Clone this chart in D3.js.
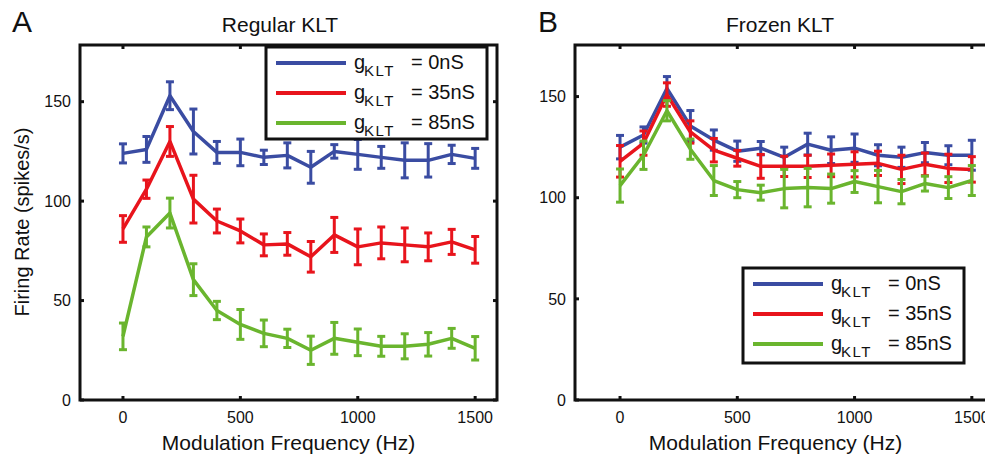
<!DOCTYPE html>
<meta charset="utf-8">
<script src="https://cdn.jsdelivr.net/npm/d3@7"></script>
<style>
  body { margin: 0; background: #fff; }
  text { font-family: "Liberation Sans", Arial, sans-serif; fill: #111; }
</style>
<body>
<svg id="chart" width="985" height="457"></svg>
<script>
// modulation frequencies (Hz)
var freqs = [0, 100, 200, 300, 400, 500, 600, 700, 800, 900, 1000, 1100, 1200, 1300, 1400, 1500];

// panel A - regular KLT
var regular0 = [124, 126, 153, 135, 124.5, 124.5, 122, 123, 117, 125, 123.5, 122, 120.5, 120.5, 123.5, 121.5];
var regular0Err = [4.8, 6.5, 7, 11.3, 5.5, 6.7, 3.6, 6.3, 8, 3.4, 7.5, 5.5, 8.8, 8.4, 4.6, 5];
var regular35 = [86, 106, 130, 101, 90, 85, 78, 78.5, 72, 83, 77, 79, 78, 77, 79.5, 75.5];
var regular35Err = [6.7, 4.6, 7.5, 12, 6, 6, 5.5, 5.7, 7.7, 8.8, 9, 8, 8.5, 7, 6.3, 6.7];
var regular85 = [32, 82, 94, 60.5, 45, 38, 33.5, 31, 25, 31, 29, 27, 27, 28, 31, 26];
var regular85Err = [6.7, 5, 7.5, 8, 4.6, 7.5, 6.7, 4.6, 7.1, 8, 6.7, 5, 6.3, 5.9, 5, 5.9];

// panel B - frozen KLT
var frozen0 = [125, 131, 154, 135.5, 128.5, 123, 124.5, 120, 126.5, 123.5, 124.5, 121, 120, 122.3, 121, 121];
var frozen0Err = [5.8, 4, 5.9, 7.6, 5, 5, 3.3, 5, 5.4, 6.6, 7, 5.2, 5, 5, 4.7, 7.4];
var frozen35 = [118, 127, 151, 132.5, 123.5, 119.5, 115.5, 115.5, 115.5, 116, 116.5, 117, 114, 116.5, 114.5, 114];
var frozen35Err = [7.8, 6, 5.8, 5.5, 5.8, 3.9, 5.9, 5, 5.5, 5.6, 6.2, 6, 7, 5.6, 7, 6.3];
var frozen85 = [106, 121, 143, 124, 108.5, 104, 102.5, 104.5, 105, 104.5, 108, 105.5, 103, 107, 105, 108.5];
var frozen85Err = [8.2, 7, 5, 5, 7.4, 4, 3.7, 9.5, 9.5, 7.2, 5.4, 8, 6, 3.7, 5.4, 7.4];

var xTicks = [0, 500, 1000, 1500];
var yTicks = [0, 50, 100, 150];
var seriesNames = ["0nS", "35nS", "85nS"];
var colors = ["#3a4ca2", "#e8141c", "#6ab52e"];

var svg = d3.select("#chart");

function drawPanel(p) {
  var x = d3.scaleLinear().domain(p.xDomain).range([p.left, p.left + 417]);
  var y = d3.scaleLinear().domain([0, p.yMax]).range([400, 45]);
  var g = svg.append("g");

  // series: lines then error bars
  p.series.forEach(function (s, k) {
    var pts = freqs.map(function (f, i) { return { f: f, v: s.vals[i], e: s.errs[i] }; });
    g.append("path").datum(pts)
      .attr("fill", "none").attr("stroke", colors[k]).attr("stroke-width", 3.5)
      .attr("stroke-linejoin", "round")
      .attr("d", d3.line().x(function (d) { return x(d.f); }).y(function (d) { return y(d.v); }));
    var eb = g.append("g").attr("stroke", colors[k]).attr("stroke-width", 3);
    pts.forEach(function (d) {
      var cx = x(d.f);
      eb.append("line").attr("x1", cx).attr("x2", cx).attr("y1", y(d.v - d.e)).attr("y2", y(d.v + d.e));
      eb.append("line").attr("x1", cx - 4).attr("x2", cx + 4).attr("y1", y(d.v - d.e)).attr("y2", y(d.v - d.e));
      eb.append("line").attr("x1", cx - 4).attr("x2", cx + 4).attr("y1", y(d.v + d.e)).attr("y2", y(d.v + d.e));
    });
  });

  // box + ticks (inward on all sides)
  var ax = g.append("g").attr("stroke", "#111").attr("stroke-width", 3);
  var x0 = x.range()[0], x1 = x.range()[1];
  ax.append("rect").attr("x", x0).attr("y", 45).attr("width", x1 - x0).attr("height", 355).attr("fill", "none");
  xTicks.forEach(function (t) {
    ax.append("line").attr("x1", x(t)).attr("x2", x(t)).attr("y1", 400).attr("y2", 396);
    ax.append("line").attr("x1", x(t)).attr("x2", x(t)).attr("y1", 45).attr("y2", 49);
  });
  yTicks.forEach(function (t) {
    ax.append("line").attr("x1", x0).attr("x2", x0 + 4).attr("y1", y(t)).attr("y2", y(t));
    ax.append("line").attr("x1", x1).attr("x2", x1 - 4).attr("y1", y(t)).attr("y2", y(t));
  });

  g.selectAll(".xt").data(xTicks).enter().append("text")
    .attr("x", function (d) { return x(d); }).attr("y", 423)
    .attr("text-anchor", "middle").style("font-size", "16px").text(function (d) { return d; });
  g.selectAll(".yt").data(yTicks).enter().append("text")
    .attr("x", x0 - 9).attr("y", function (d) { return y(d); }).attr("dy", "0.36em")
    .attr("text-anchor", "end").style("font-size", "16px").text(function (d) { return d; });

  g.append("text").attr("x", (x0 + 417 / 2) + p.labelShift).attr("y", 450)
    .attr("text-anchor", "middle").style("font-size", "21px").text("Modulation Frequency (Hz)");
  g.append("text").attr("x", p.titleX).attr("y", 32)
    .attr("text-anchor", "middle").style("font-size", "21px").text(p.title);
  g.append("text").attr("x", p.letterX).attr("y", 32)
    .style("font-size", "30px").text(p.letter);

  // legend
  var L = p.legend;
  var lg = g.append("g");
  lg.append("rect").attr("x", L.x).attr("y", L.y).attr("width", 221).attr("height", L.h)
    .attr("fill", "#fff").attr("stroke", "#111").attr("stroke-width", 3);
  seriesNames.forEach(function (n, k) {
    var ly = L.y + 16 + k * 30;
    lg.append("line").attr("x1", L.x + 10).attr("x2", L.x + 80).attr("y1", ly).attr("y2", ly)
      .attr("stroke", colors[k]).attr("stroke-width", 4);
    var tx = L.x + 88;
    var t = lg.append("text").attr("y", ly + 6).style("font-size", "20px");
    t.append("tspan").attr("x", tx).text("g");
    t.append("tspan").attr("x", tx + 10).attr("dy", 7).style("font-size", "15px")
      .style("letter-spacing", "1.5px").text("KLT");
    t.append("tspan").attr("x", tx + 57).attr("dy", -7).text("= " + n);
  });
}

drawPanel({
  left: 80, xDomain: [-183, 1593], yMax: 178.5,
  title: "Regular KLT", titleX: 280, letter: "A", letterX: 12, labelShift: 0,
  series: [{ vals: regular0, errs: regular0Err }, { vals: regular35, errs: regular35Err }, { vals: regular85, errs: regular85Err }],
  legend: { x: 266, y: 47, h: 92 }
});
drawPanel({
  left: 575, xDomain: [-192, 1586], yMax: 175.5,
  title: "Frozen KLT", titleX: 780, letter: "B", letterX: 538, labelShift: -8,
  series: [{ vals: frozen0, errs: frozen0Err }, { vals: frozen35, errs: frozen35Err }, { vals: frozen85, errs: frozen85Err }],
  legend: { x: 743, y: 268, h: 95 }
});

// shared y label on the left panel
svg.append("text").attr("transform", "translate(29,222) rotate(-90)")
  .attr("text-anchor", "middle").style("font-size", "20px").text("Firing Rate (spikes/s)");
</script>
</body>
